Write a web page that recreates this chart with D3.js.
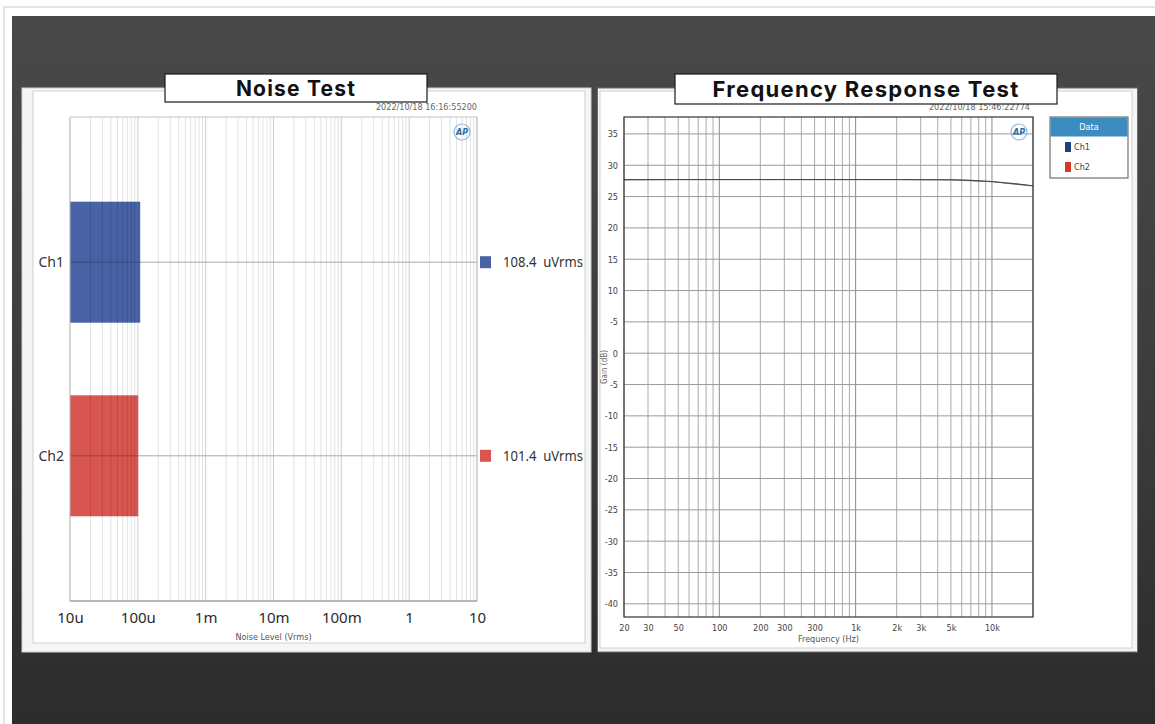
<!DOCTYPE html>
<html>
<head>
<meta charset="utf-8">
<script src="https://cdn.jsdelivr.net/npm/d3@7"></script>
<style>
  body { margin: 0; background: #fff; }
  svg { display: block; }
  .cond { font-family: "Liberation Sans Narrow", "DejaVu Sans Condensed", "Roboto Condensed", "Liberation Sans", sans-serif; font-stretch: condensed; }
</style>
</head>
<body>
<svg id="chart" width="1155" height="724"></svg>
<script>
// ---------------- DATA ----------------
// Noise Test
const noiseChannels = ["Ch1", "Ch2"];
const noiseValues = [108.4e-6, 101.4e-6];           // Vrms
const noiseLabels = ["108.4  uVrms", "101.4  uVrms"];
const noiseTickValues = [1e-5, 1e-4, 1e-3, 1e-2, 1e-1, 1, 10];
const noiseTickLabels = ["10u", "100u", "1m", "10m", "100m", "1", "10"];

// Frequency Response Test
const freqHz = [20, 50, 100, 200, 500, 1000, 2000, 5000, 7000, 10000, 15000, 20000];
const ch1Gain = [27.7, 27.72, 27.72, 27.72, 27.72, 27.72, 27.72, 27.68, 27.58, 27.4, 27.02, 26.72];
const ch2Gain = [27.68, 27.7, 27.7, 27.7, 27.7, 27.7, 27.7, 27.66, 27.55, 27.36, 26.98, 26.68];
const freqTickValues = [20, 30, 50, 100, 200, 300, 500, 1000, 2000, 3000, 5000, 10000];
const freqTickLabels = ["20", "30", "50", "100", "200", "300", "300", "1k", "2k", "3k", "5k", "10k"];
const gainTickValues = [35, 30, 25, 20, 15, 10, 5, 0, -5, -10, -15, -20, -25, -30, -35, -40];
const gainTickLabels = ["35", "30", "25", "20", "15", "10", "-5", "0", "-5", "-10", "-15", "-20", "-25", "-30", "-35", "-40"];
const legendNames = ["Ch1", "Ch2"];

// ---------------- DRAW ----------------
const svg = d3.select("#chart");
const defs = svg.append("defs");
const grad = defs.append("linearGradient").attr("id", "bg").attr("x1", 0).attr("y1", 0).attr("x2", 0).attr("y2", 1);
grad.append("stop").attr("offset", "0").attr("stop-color", "#484848");
grad.append("stop").attr("offset", "0.12").attr("stop-color", "#464646");
grad.append("stop").attr("offset", "0.6").attr("stop-color", "#3a3a3a");
grad.append("stop").attr("offset", "0.9").attr("stop-color", "#2f2f2f");
grad.append("stop").attr("offset", "1").attr("stop-color", "#2c2c2c");

// page frame
svg.append("rect").attr("x", 4).attr("y", 7).attr("width", 1170).attr("height", 740)
  .attr("fill", "#fff").attr("stroke", "#dcdcdc").attr("stroke-width", 1.5);
svg.append("rect").attr("x", 12).attr("y", 16).attr("width", 1143).attr("height", 708).attr("fill", "url(#bg)");

// panels
function panel(x, y, w, h, ix, iy, iw, ih, edge) {
  svg.append("rect").attr("x", x).attr("y", y).attr("width", w).attr("height", h)
    .attr("fill", "#f5f5f5").attr("stroke", edge).attr("stroke-width", 1);
  svg.append("rect").attr("x", ix).attr("y", iy).attr("width", iw).attr("height", ih)
    .attr("fill", "#fff").attr("stroke", "#d0d0d0").attr("stroke-width", 1);
}
panel(22, 88, 569, 564, 33, 91, 552, 552, "#cfcfcf");
panel(597.5, 88, 540, 564, 600, 91, 532, 557, "#6a6a6a");

// ---------- Noise test ----------
const L = { x0: 70, x1: 477, y0: 117, y1: 601 };
const xL = d3.scaleLog().domain([1e-5, 10]).range([L.x0, L.x1]);
const yL = d3.scalePoint().domain(noiseChannels).range([L.y0, L.y1]).padding(0.75);
const barH = yL.step() * 0.625;
const noiseColors = ["#4762a5", "#d9554f"];

const gridVals = [];
for (let k = -5; k <= 0; k++) for (let m = 1; m <= 9; m++) gridVals.push(m * Math.pow(10, k));
gridVals.push(10);

const gL = svg.append("g");
gL.append("g").selectAll("line").data(gridVals).join("line")
  .attr("x1", d => xL(d)).attr("x2", d => xL(d)).attr("y1", L.y0).attr("y2", L.y1)
  .attr("stroke", (d, i) => (i % 9 === 0 ? "#cdcdcd" : "#e2e2e2")).attr("stroke-width", 1);

gL.append("g").selectAll("line").data(noiseChannels).join("line")
  .attr("x1", L.x0).attr("x2", L.x1).attr("y1", d => yL(d)).attr("y2", d => yL(d))
  .attr("stroke", "#a8a8a8").attr("stroke-width", 1);

gL.append("g").selectAll("rect").data(noiseChannels).join("rect")
  .attr("x", xL(1e-5)).attr("y", d => yL(d) - barH / 2)
  .attr("width", (d, i) => xL(noiseValues[i]) - xL(1e-5)).attr("height", barH)
  .attr("fill", (d, i) => noiseColors[i]);

// grid showing faintly through bars
const clip = defs.append("clipPath").attr("id", "barclip");
noiseChannels.forEach((c, i) => {
  clip.append("rect").attr("x", xL(1e-5)).attr("y", yL(c) - barH / 2)
    .attr("width", xL(noiseValues[i]) - xL(1e-5)).attr("height", barH);
});
gL.append("g").selectAll("line").data(gridVals.filter(v => v < 1e-4)).join("line")
  .attr("x1", d => xL(d)).attr("x2", d => xL(d)).attr("y1", L.y0).attr("y2", L.y1)
  .attr("stroke", "rgba(0,0,0,0.13)").attr("stroke-width", 1)
  .attr("clip-path", "url(#barclip)");
gL.append("g").selectAll("line").data(noiseChannels).join("line")
  .attr("x1", L.x0).attr("x2", d => xL(noiseValues[noiseChannels.indexOf(d)])).attr("y1", d => yL(d)).attr("y2", d => yL(d))
  .attr("stroke", "rgba(0,0,0,0.25)").attr("stroke-width", 1);

// frame
gL.append("rect").attr("x", L.x0).attr("y", L.y0).attr("width", L.x1 - L.x0).attr("height", L.y1 - L.y0)
  .attr("fill", "none").attr("stroke", "#c4c4c4");
gL.append("line").attr("x1", L.x0).attr("x2", L.x1).attr("y1", L.y1).attr("y2", L.y1).attr("stroke", "#a9a9a9").attr("stroke-width", 1.5);

// category labels
gL.append("g").selectAll("text").data(noiseChannels).join("text")
  .attr("x", 64).attr("y", d => yL(d)).attr("dy", "0.35em").attr("text-anchor", "end")
  .attr("font-family", "'Noto Sans', 'Open Sans', sans-serif").attr("font-size", 14).attr("fill", "#333")
  .text(d => d);

// value legend on right
noiseChannels.forEach((c, i) => {
  gL.append("rect").attr("x", 480).attr("y", yL(c) - 6).attr("width", 11).attr("height", 12).attr("fill", noiseColors[i]);
  gL.append("text").attr("x", 503).attr("y", yL(c)).attr("dy", "0.35em")
    .attr("font-family", "'Noto Sans', 'Open Sans', sans-serif").attr("font-size", 13.5).attr("fill", "#333")
    .attr("textLength", 80).attr("lengthAdjust", "spacingAndGlyphs")
    .style("white-space", "pre")
    .text(noiseLabels[i]);
});

// x axis
const axL = d3.axisBottom(xL).tickValues(noiseTickValues).tickFormat((d, i) => noiseTickLabels[i]).tickSize(0).tickPadding(11);
const axLg = gL.append("g").attr("transform", `translate(0,${L.y1})`).call(axL);
axLg.select(".domain").remove();
axLg.selectAll("text").attr("font-family", "'Noto Sans', 'Open Sans', sans-serif").attr("font-size", 15).attr("fill", "#2a2a2a");
gL.append("text").attr("class", "cond").attr("x", (L.x0 + L.x1) / 2).attr("y", 640).attr("text-anchor", "middle")
  .attr("font-size", 9).attr("fill", "#555").text("Noise Level (Vrms)");
gL.append("text").attr("class", "cond").attr("x", L.x1).attr("y", 110).attr("text-anchor", "end")
  .attr("font-size", 9).attr("fill", "#666").text("2022/10/18 16:16:55200");

function apLogo(cx, cy) {
  const g = svg.append("g");
  g.append("circle").attr("cx", cx).attr("cy", cy).attr("r", 8).attr("fill", "none").attr("stroke", "#8fb8e0").attr("stroke-width", 1.2);
  g.append("text").attr("x", cx).attr("y", cy).attr("dy", "0.35em").attr("text-anchor", "middle")
    .attr("font-family", "'DejaVu Sans', sans-serif").attr("font-style", "italic").attr("font-weight", "bold")
    .attr("font-size", 8).attr("fill", "#2f6aa8").text("AP");
}
apLogo(462, 132);

// ---------- Frequency response ----------
const R = { x0: 624, x1: 1033, y0: 117, y1: 617 };
const xR = d3.scaleLog().domain([20, 20000]).range([R.x0, R.x1]);
const yR = d3.scaleLinear().domain([-42.1, 37.7]).range([R.y1, R.y0]);
const gR = svg.append("g");
const fGrid = [];
for (let k = 1; k <= 4; k++) for (let m = 1; m <= 9; m++) {
  const v = m * Math.pow(10, k);
  if (v >= 20 && v <= 20000) fGrid.push(v);
}
gR.append("rect").attr("x", R.x0).attr("y", R.y0).attr("width", R.x1 - R.x0).attr("height", R.y1 - R.y0).attr("fill", "#fff");
gR.append("g").selectAll("line").data(fGrid).join("line")
  .attr("x1", d => xR(d)).attr("x2", d => xR(d)).attr("y1", R.y0).attr("y2", R.y1)
  .attr("stroke", d => ([100, 1000, 10000].includes(d) ? "#8a8a8a" : "#ababab")).attr("stroke-width", 1);
gR.append("g").selectAll("line").data(gainTickValues).join("line")
  .attr("x1", R.x0).attr("x2", R.x1).attr("y1", d => yR(d)).attr("y2", d => yR(d))
  .attr("stroke", "#9a9a9a").attr("stroke-width", 1);

const line = d3.line().x((d, i) => xR(freqHz[i])).y(d => yR(d));
gR.append("path").datum(ch2Gain).attr("d", line).attr("fill", "none").attr("stroke", "#808080").attr("stroke-width", 1.1);
gR.append("path").datum(ch1Gain).attr("d", line).attr("fill", "none").attr("stroke", "#4a4a4a").attr("stroke-width", 1.1);

gR.append("rect").attr("x", R.x0).attr("y", R.y0).attr("width", R.x1 - R.x0).attr("height", R.y1 - R.y0)
  .attr("fill", "none").attr("stroke", "#333").attr("stroke-width", 1.2);

const ayR = d3.axisLeft(yR).tickValues(gainTickValues).tickFormat((d, i) => gainTickLabels[i]).tickSize(0).tickPadding(6);
const ayRg = gR.append("g").attr("transform", `translate(${R.x0},0)`).call(ayR);
ayRg.select(".domain").remove();
ayRg.selectAll("text").attr("class", "cond").attr("font-family", null).attr("font-size", 9).attr("fill", "#444");

const axR = d3.axisBottom(xR).tickValues(freqTickValues).tickFormat((d, i) => freqTickLabels[i]).tickSize(0).tickPadding(8);
const axRg = gR.append("g").attr("transform", `translate(0,${R.y1})`).call(axR);
axRg.select(".domain").remove();
axRg.selectAll("text").attr("class", "cond").attr("font-family", null).attr("font-size", 9).attr("fill", "#444");

gR.append("text").attr("class", "cond").attr("x", (R.x0 + R.x1) / 2).attr("y", 642).attr("text-anchor", "middle")
  .attr("font-size", 9).attr("fill", "#555").text("Frequency (Hz)");
gR.append("text").attr("class", "cond").attr("transform", `translate(607,367) rotate(-90)`).attr("text-anchor", "middle")
  .attr("font-size", 8).attr("fill", "#666").text("Gain (dB)");
gR.append("text").attr("class", "cond").attr("x", 1030).attr("y", 110).attr("text-anchor", "end")
  .attr("font-size", 9).attr("fill", "#666").text("2022/10/18 15:46:22774");
apLogo(1019, 132);

// legend
const lg = svg.append("g").attr("transform", "translate(1050,117)");
lg.append("rect").attr("width", 78).attr("height", 61).attr("fill", "#fff").attr("stroke", "#555").attr("stroke-width", 1);
lg.append("rect").attr("x", 0.5).attr("y", 0.5).attr("width", 77).attr("height", 19).attr("fill", "#3c8cc0");
lg.append("text").attr("class", "cond").attr("x", 39).attr("y", 10).attr("dy", "0.35em").attr("text-anchor", "middle")
  .attr("font-size", 9).attr("fill", "#fff").text("Data");
const legendColors = ["#1f3f7e", "#d6372c"];
legendNames.forEach((n, i) => {
  lg.append("rect").attr("x", 15).attr("y", 25 + i * 20).attr("width", 6).attr("height", 10).attr("fill", legendColors[i]);
  lg.append("text").attr("class", "cond").attr("x", 24).attr("y", 30 + i * 20).attr("dy", "0.35em")
    .attr("font-size", 9).attr("fill", "#444").text(n);
});

// title boxes
function titleBox(x, y, w, h, label, size, spacing) {
  svg.append("rect").attr("x", x).attr("y", y).attr("width", w).attr("height", h)
    .attr("fill", "#fff").attr("stroke", "#1a1a1a").attr("stroke-width", 1.2);
  svg.append("text").attr("x", x + w / 2).attr("y", y + h / 2).attr("dy", "0.36em").attr("text-anchor", "middle")
    .attr("font-family", "Inter, 'Open Sans', sans-serif").attr("font-weight", 700).attr("font-size", size)
    .attr("letter-spacing", spacing).attr("fill", "#111").text(label);
}
titleBox(165, 74, 262, 28, "Noise Test", 21, 1.2);
titleBox(675, 74, 382, 30, "Frequency Response Test", 22, 1.3);
</script>
</body>
</html>
